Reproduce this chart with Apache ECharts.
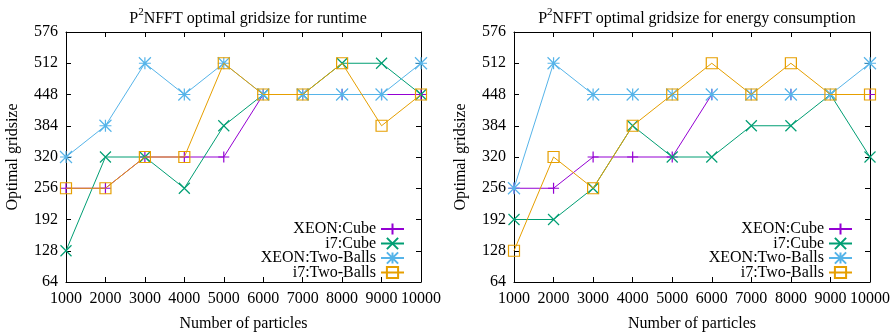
<!DOCTYPE html>
<html><head><meta charset="utf-8">
<script src="https://cdn.jsdelivr.net/npm/echarts@6/dist/echarts.min.js"></script>
<style>html,body{margin:0;padding:0;background:#fff}#c{width:894px;height:334px}</style>
</head><body><div id="c"></div>
<script>
const particles = [1000,2000,3000,4000,5000,6000,7000,8000,9000,10000];
const yTicks = [64,128,192,256,320,384,448,512,576];
const seriesNames = ['XEON:Cube','i7:Cube','XEON:Two-Balls','i7:Two-Balls'];
// runtime
const runXeonCube  = [256,256,320,320,320,448,448,448,448,448];
const runI7Cube    = [128,320,320,256,384,448,448,512,512,448];
const runXeonBalls = [320,384,512,448,512,448,448,448,448,512];
const runI7Balls   = [256,256,320,320,512,448,448,512,384,448];
// energy
const enXeonCube  = [256,256,320,320,320,448,448,448,448,448];
const enI7Cube    = [192,192,256,384,320,320,384,384,448,320];
const enXeonBalls = [256,512,448,448,448,448,448,448,448,512];
const enI7Balls   = [128,320,256,384,448,512,448,512,448,448];

const colors = ['#9400d3','#009e73','#56b4e9','#e69f00'];
const symbols = [
  'path://M0,5L10,5M5,0L5,10',
  'path://M0,0L10,10M10,0L0,10',
  'path://M0,5L10,5M5,0L5,10M0,0L10,10M10,0L0,10',
  'path://M0,0L10,0L10,10L0,10Z'
];
const FONT = 'Liberation Serif';
const FS = 16;
const txt = {fontFamily: FONT, fontSize: FS, color: '#000', fontWeight: 'normal'};

function mkSeries(arrs, gi) {
  return arrs.map((a, i) => ({
    type: 'line', name: seriesNames[i], xAxisIndex: gi*2, yAxisIndex: gi*2,
    data: particles.map((p, k) => [p, a[k]]),
    symbol: symbols[i], symbolSize: i === 3 ? 11 : (i === 2 ? 12 : 11),
    showAllSymbol: true,
    lineStyle: {color: colors[i], width: 1},
    itemStyle: {color: i === 3 ? 'rgba(0,0,0,0)' : colors[i], borderColor: colors[i], borderWidth: 1.2},
    emphasis: {disabled: true}, animation: false, z: 2 + i
  }));
}

const grids = [
  {left: 66, right: 894-421, top: 32, bottom: 334-282, outerBoundsMode: 'none', containLabel: false},
  {left: 514, right: 894-870, top: 32, bottom: 334-282, outerBoundsMode: 'none', containLabel: false}
];
const xAxes = [], yAxes = [];
grids.forEach((g, gi) => {
  xAxes.push({type: 'value', gridIndex: gi, min: 1000, max: 10000, interval: 1000, position: 'bottom',
    axisLine: {show: true, lineStyle: {color: '#000', width: 1}},
    axisTick: {show: true, inside: true, length: 5, lineStyle: {color: '#000'}},
    axisLabel: Object.assign({margin: 9, formatter: v => String(v)}, txt), splitLine: {show: false},
    name: 'Number of particles', nameLocation: 'middle', nameGap: 34, nameTextStyle: txt});
  xAxes.push({type: 'value', gridIndex: gi, min: 1000, max: 10000, interval: 1000, position: 'top',
    axisLine: {show: true, lineStyle: {color: '#000', width: 1}},
    axisTick: {show: true, inside: true, length: 5, lineStyle: {color: '#000'}},
    axisLabel: {show: false}, splitLine: {show: false}});
  yAxes.push({type: 'value', gridIndex: gi, min: 64, max: 576, interval: 64, position: 'left',
    axisLine: {show: true, lineStyle: {color: '#000', width: 1}},
    axisTick: {show: true, inside: true, length: 5, lineStyle: {color: '#000'}},
    axisLabel: Object.assign({margin: 8, formatter: v => String(v)}, txt), splitLine: {show: false},
    name: 'Optimal gridsize', nameLocation: 'middle', nameGap: 45, nameTextStyle: txt});
  yAxes.push({type: 'value', gridIndex: gi, min: 64, max: 576, interval: 64, position: 'right',
    axisLine: {show: true, lineStyle: {color: '#000', width: 1}},
    axisTick: {show: true, inside: true, length: 5, lineStyle: {color: '#000'}},
    axisLabel: {show: false}, splitLine: {show: false}});
});

function mkTitle(rest, cx) {
  return {
    text: '{a|P}{s|2}{a|' + rest + '}', left: cx, top: 2, textAlign: 'center',
    textStyle: {rich: {
      a: {fontFamily: FONT, fontSize: FS, fontWeight: 'normal', color: '#000', lineHeight: 20, verticalAlign: 'bottom'},
      s: {fontFamily: FONT, fontSize: 11, fontWeight: 'normal', color: '#000', lineHeight: 20, verticalAlign: 'top'}
    }}
  };
}

const legendBase = {
  orient: 'vertical', align: 'right', itemWidth: 23, itemHeight: 14, itemGap: -1.5, padding: 0,
  data: seriesNames, textStyle: Object.assign({lineHeight: 14}, txt), selectedMode: false
};

const chart = echarts.init(document.getElementById('c'), null, {renderer: 'canvas'});
chart.setOption({
  animation: false,
  backgroundColor: '#fff',
  title: [mkTitle('NFFT optimal gridsize for runtime', 243), mkTitle('NFFT optimal gridsize for energy consumption', 692)],
  legend: [
    Object.assign({}, legendBase, {right: 894-405, top: 221}),
    Object.assign({}, legendBase, {right: 894-853, top: 221})
  ],
  grid: grids,
  xAxis: xAxes,
  yAxis: yAxes,
  series: mkSeries([runXeonCube, runI7Cube, runXeonBalls, runI7Balls], 0)
    .concat(mkSeries([enXeonCube, enI7Cube, enXeonBalls, enI7Balls], 1))
});
</script></body></html>
